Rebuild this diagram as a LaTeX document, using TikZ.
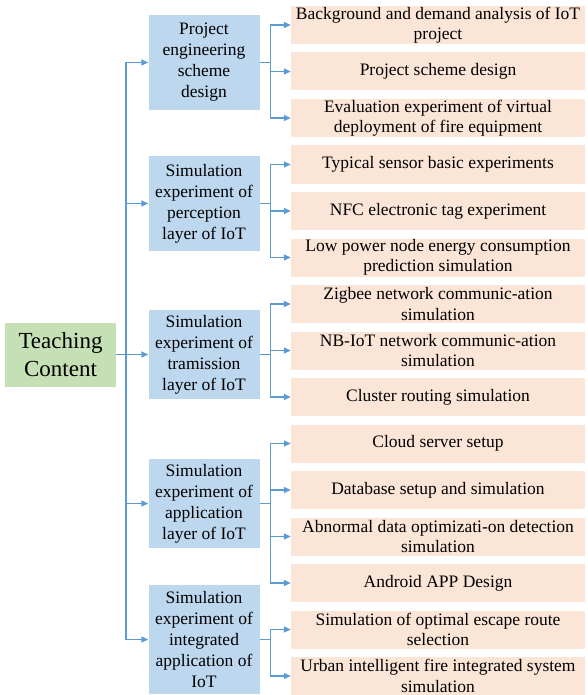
\documentclass[tikz,border=0pt]{standalone}
\usepackage{fontspec}
\setmainfont{LiberationSerif}[Extension=.ttf,UprightFont=*-Regular,BoldFont=*-Bold]
\usetikzlibrary{arrows.meta,calc}
\definecolor{bluefill}{HTML}{BDD7EE}
\definecolor{orangefill}{HTML}{FBE5D6}
\definecolor{greenfill}{HTML}{C5E0B4}
\definecolor{linecol}{HTML}{5B9BD5}
\begin{document}
\begin{tikzpicture}[x=1pt,y=-1pt,
 catbox/.style={fill=bluefill, minimum width=111pt, inner sep=0pt, align=center, font=\fontsize{17.5}{21}\selectfont},
 itembox/.style={fill=orangefill, minimum width=294pt, minimum height=38pt, inner sep=0pt, align=center, font=\fontsize{17.5}{20.5}\selectfont},
 rootbox/.style={fill=greenfill, minimum width=111pt, minimum height=64pt, inner sep=0pt, align=center, font=\fontsize{23}{27.5}\selectfont},
 arr/.style={draw=linecol, line width=1.4pt, -{Triangle[length=7pt,width=6pt]}},
 conn/.style={draw=linecol, line width=1.4pt}]
\useasboundingbox (0,0) rectangle (587,695);

\node[rootbox] (root) at (60.5,354.5) {Teaching\\Content};

\node[catbox, minimum height=95pt] (b1) at (204,62.5) {Project\\engineering\\scheme\\design};
\node[catbox, minimum height=95pt] (b2) at (204,203.5) {Simulation\\experiment of\\perception\\layer of IoT};
\node[catbox, minimum height=89pt] (b3) at (204,354.5) {Simulation\\experiment of\\tramission\\layer of IoT};
\node[catbox, minimum height=89pt] (b4) at (204,503.5) {Simulation\\experiment of\\application\\layer of IoT};
\node[catbox, minimum height=109pt] (b5) at (204,639.5) {Simulation\\experiment of\\integrated\\application of\\IoT};

\node[itembox] (o1) at (438,25) {Background and demand analysis of IoT\\project};
\node[itembox] (o2) at (438,71.5) {Project scheme design};
\node[itembox] (o3) at (438,118) {Evaluation experiment of virtual\\deployment of fire equipment};
\node[itembox] (o4) at (438,164.5) {Typical sensor basic experiments};
\node[itembox] (o5) at (438,211) {NFC electronic tag experiment};
\node[itembox] (o6) at (438,257.5) {Low power node energy consumption\\prediction simulation};
\node[itembox] (o7) at (438,304) {Zigbee network communic-ation\\simulation};
\node[itembox] (o8) at (438,350.5) {NB-IoT network communic-ation\\simulation};
\node[itembox] (o9) at (438,397) {Cluster routing simulation};
\node[itembox] (o10) at (438,443.5) {Cloud server setup};
\node[itembox] (o11) at (438,490) {Database setup and simulation};
\node[itembox] (o12) at (438,536.5) {Abnormal data optimizati-on detection\\simulation};
\node[itembox] (o13) at (438,583) {Android APP Design};
\node[itembox] (o14) at (438,629.5) {Simulation of optimal escape route\\selection};
\node[itembox] (o15) at (438,676) {Urban intelligent fire integrated system\\simulation};

\coordinate (trunk) at (126,0);
\draw[conn] (trunk |- b1.west) -- (trunk |- b5.west);
\draw[arr] (root.east) -- (b3.west);
\foreach \b in {b1,b2,b4,b5} {\draw[arr] (trunk |- \b.west) -- (\b.west);}

\foreach \b/\o in {b1/o1,b1/o2,b1/o3,b2/o4,b2/o5,b2/o6,b3/o7,b3/o8,b3/o9,b4/o10,b4/o11,b4/o12,b4/o13,b5/o14,b5/o15}
  {\draw[arr] (\b.east) -- ++(11,0) |- (\o.west);}
\end{tikzpicture}
\end{document}
